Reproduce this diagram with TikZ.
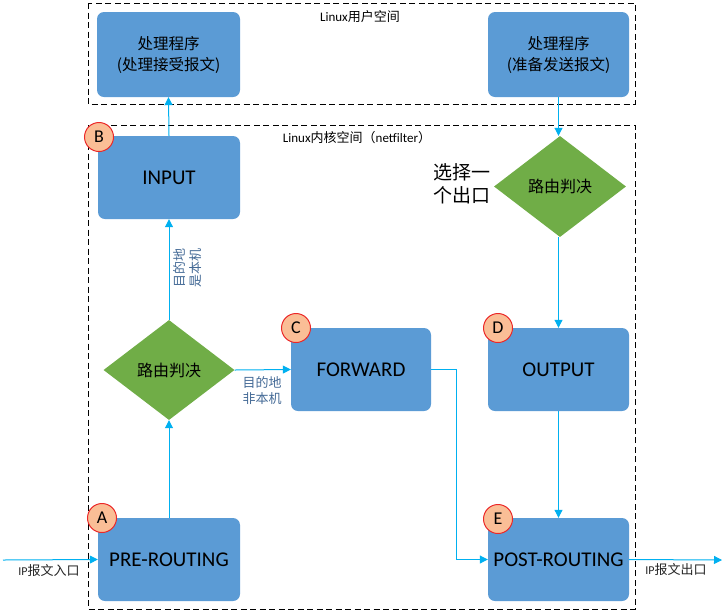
\documentclass[tikz,border=0pt]{standalone}
\usepackage{fontspec}
\setmainfont{Carlito}
\newfontfamily\cjk{Noto Sans CJK SC}
\usetikzlibrary{shapes.geometric,arrows.meta}
\definecolor{boxblue}{RGB}{91,155,213}
\definecolor{dgreen}{RGB}{112,173,71}
\definecolor{arrowc}{RGB}{0,176,240}
\definecolor{circfill}{RGB}{250,190,150}
\definecolor{circedge}{RGB}{235,40,40}
\definecolor{lblc}{RGB}{68,106,150}
\tikzset{
  blk/.style={rectangle, rounded corners=7pt, fill=boxblue, inner sep=0pt, align=center, text=black},
  dec/.style={diamond, fill=dgreen, inner sep=0pt, minimum width=131pt, minimum height=100pt, font=\cjk\fontsize{16}{18}\selectfont},
  tag/.style={circle, fill=circfill, draw=circedge, line width=1pt, minimum size=29pt, inner sep=0pt, font=\fontsize{18}{18}\selectfont},
  conn/.style={arrowc, line width=1pt, -{Triangle[width=8pt,length=8pt]}},
  zone/.style={draw=black, line width=1pt, dash pattern=on 6pt off 3.5pt},
  elbl/.style={text=lblc, font=\cjk\fontsize{13}{16}\selectfont, align=center},
  io/.style={font=\cjk\fontsize{13}{16}\selectfont, text=black!85}
}
\begin{document}
\begin{tikzpicture}[x=1pt,y=-1pt]
\useasboundingbox (0,0) rectangle (725,614);
% zones
\draw[zone] (88,3) rectangle (635,104);
\draw[zone] (88,125) rectangle (635,609);
\node[font=\fontsize{13}{15}\selectfont] (ulbl) at (360,17) {Linux{\cjk 用户空间}};
\node[font=\fontsize{13}{15}\selectfont] (klbl) at (357,138) {Linux{\cjk 内核空间（}netfilter{\cjk ）}};
% boxes
\node[blk, minimum width=143pt, minimum height=85pt, font=\cjk\fontsize{15.5}{21}\selectfont] (recv) at (168.5,54.5) {处理程序\\(处理接受报文)};
\node[blk, minimum width=141pt, minimum height=85pt, font=\cjk\fontsize{15.5}{21}\selectfont] (send) at (558.5,54.5) {处理程序\\(准备发送报文)};
\node[blk, minimum width=142pt, minimum height=83pt, font=\fontsize{21}{21}\selectfont] (input) at (169,177.5) {INPUT};
\node[blk, minimum width=141pt, minimum height=83pt, font=\fontsize{21}{21}\selectfont] (output) at (558.5,369.5) {OUTPUT};
\node[blk, minimum width=140pt, minimum height=83pt, font=\fontsize{21}{21}\selectfont] (forward) at (361,369.5) {FORWARD};
\node[blk, minimum width=142pt, minimum height=83pt, font=\fontsize{21}{21}\selectfont] (pre) at (169,559.5) {PRE-ROUTING};
\node[blk, minimum width=141pt, minimum height=83pt, font=\fontsize{21}{21}\selectfont] (post) at (558.5,559.5) {POST-ROUTING};
% decisions
\node[dec] (d1) at (169,370) {路由判决};
\node[dec, minimum width=132pt, minimum height=101pt] (d2) at (560,186.5) {路由判决};
\node[font=\cjk\fontsize{19}{23}\selectfont, align=left] (choose) at (462,184) {选择一\\个出口};
% tags
\node[tag] (ta) at (102,518) {A};
\node[tag] (tb) at (99,137) {B};
\node[tag] (tc) at (296,328) {C};
\node[tag] (td) at (498,328) {D};
\node[tag] (te) at (498,519) {E};
% connectors
\coordinate (inpt) at (3,560);
\coordinate (outpt) at (722,560);
\draw[conn] (input.north) -- (recv.south);
\draw[conn] (send.south) -- (send.south |- d2.north);
\draw[conn] (d2.south -| send.south) -- (output.north);
\draw[conn] (output.south) -- (post.north);
\draw[conn] (d1.north) -- (input.south);
\draw[conn] (pre.north) -- (d1.south);
\draw[conn] (d1.east) -- (forward.west);
\draw[conn] (forward.east) -- ++(25,0) |- (post.west);
\draw[conn] (inpt) -- (pre.west);
\draw[conn] (post.east) -- (outpt);
% labels
\node[elbl, rotate=90] (l1) at (188,268) {目的地\\是本机};
\node[elbl] (l2) at (262,391) {目的地\\非本机};
\node[io] (lin) at (49,571) {{\fontsize{12}{14}\fontspec{Carlito}IP}报文入口};
\node[io] (lout) at (676,570) {{\fontsize{12}{14}\fontspec{Carlito}IP}报文出口};
\end{tikzpicture}
\end{document}
